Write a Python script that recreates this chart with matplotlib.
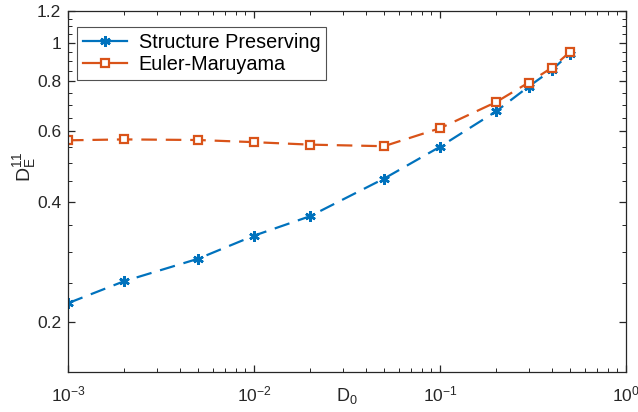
import matplotlib
matplotlib.use("Agg")
import matplotlib.pyplot as plt
import numpy as np

plt.rcParams["font.family"] = ["Liberation Sans", "DejaVu Sans"]
plt.rcParams["mathtext.default"] = "regular"

# data
D0 = [1e-3, 2e-3, 5e-3, 1e-2, 2e-2, 5e-2, 1e-1, 2e-1, 3e-1, 4e-1, 5e-1]
sp = [0.223, 0.253, 0.288, 0.329, 0.368, 0.457, 0.549, 0.673, 0.777, 0.855, 0.940]
em = [0.570, 0.573, 0.571, 0.564, 0.556, 0.551, 0.611, 0.710, 0.795, 0.866, 0.948]

BLUE = "#0072BD"
RED = "#D95319"
AX = "#262626"

fig = plt.figure(figsize=(6.38, 4.12), dpi=100)
ax = fig.add_axes([0.1066, 0.0971, 0.8744, 0.8759])

asterisk = (6, 2, 0)
ax.plot(D0, sp, ls=(0, (7, 4)), color=BLUE, lw=1.6, marker=asterisk, ms=7.5,
        mew=1.8, label="Structure Preserving")
ax.plot(D0, em, ls=(0, (7, 4)), color=RED, lw=1.6, marker="s", ms=6,
        mfc="white", mec=RED, mew=1.6, label="Euler-Maruyama")

ax.set_xscale("log")
ax.set_yscale("log")
ax.set_xlim(1e-3, 1)
ax.set_ylim(0.15, 1.2)

ax.set_yticks([0.2, 0.4, 0.6, 0.8, 1.0, 1.2])
ax.set_yticklabels(["0.2", "0.4", "0.6", "0.8", "1", "1.2"])
ax.set_yticks(np.arange(0.15, 1.2001, 0.05), minor=True)
ax.yaxis.set_minor_formatter(matplotlib.ticker.NullFormatter())

ax.tick_params(which="both", direction="in", top=True, right=True, colors=AX,
               labelsize=12.5, labelcolor=AX)
ax.tick_params(which="major", length=5, width=0.9)
ax.tick_params(which="minor", length=3, width=0.7)
ax.tick_params(axis="x", pad=9)
ax.tick_params(axis="y", pad=5)
for s in ax.spines.values():
    s.set_color(AX)
    s.set_linewidth(0.9)

ax.set_xlabel("$D_0$", fontsize=13, color=AX)
ax.xaxis.set_label_coords(0.5, -0.04)
ax.xaxis.label.set_va("top")
ax.set_ylabel("$D_E^{11}$", fontsize=14, color=AX)
ax.yaxis.set_label_coords(-0.054, 0.57)

leg = ax.legend(loc="upper left", bbox_to_anchor=(0.016, 0.956), fontsize=14.3,
                frameon=True, fancybox=False, edgecolor=AX, handlelength=2.2,
                borderpad=0.3, labelspacing=0.15, handletextpad=0.6,
                borderaxespad=0)
leg.get_frame().set_linewidth(0.8)
for h in leg.get_lines():
    h.set_linestyle("-")

fig.savefig("out.png", dpi=100)
